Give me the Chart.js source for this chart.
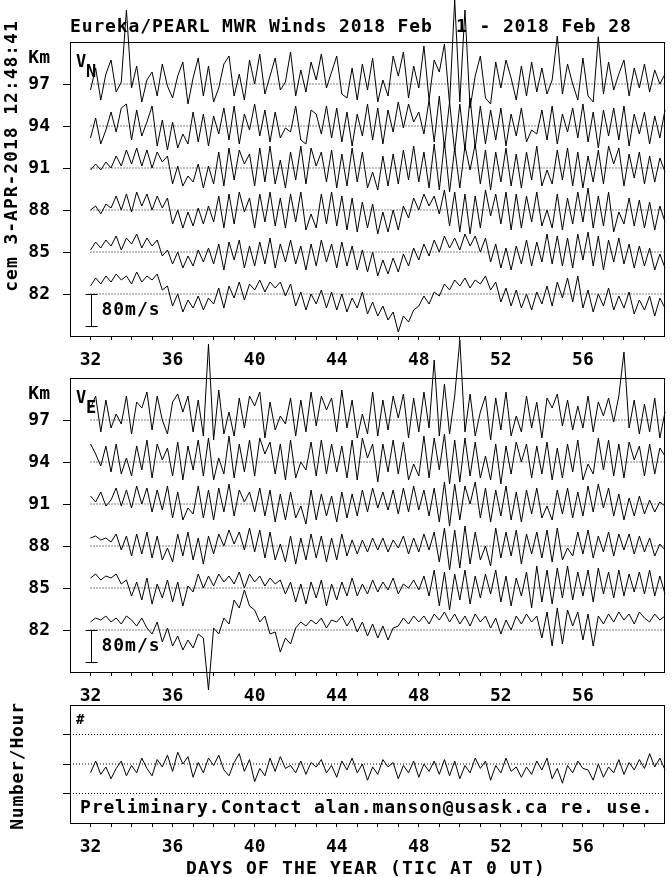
<!DOCTYPE html>
<html>
<head>
<meta charset="utf-8">
<script src="https://cdn.jsdelivr.net/npm/chart.js@4.4.1/dist/chart.umd.min.js"></script>
<style>
  body { margin: 0; background: #fff; }
  #wrap { position: relative; width: 672px; height: 877px; }
  #wrap canvas { position: absolute; left: 0; top: 0; }
</style>
</head>
<body>
<div id="wrap">
  <canvas id="panelN" width="672" height="877"></canvas>
  <canvas id="panelE" width="672" height="877"></canvas>
  <canvas id="panelM" width="672" height="877"></canvas>
</div>
<script>
// heights (km) of the stacked wind traces, top to bottom
const levels = [97, 94, 91, 88, 85, 82];
// day-of-year ticks and which of them carry a label
const dayTicks = [32,33,34,35,36,37,38,39,40,41,42,43,44,45,46,47,48,49,50,51,52,53,54,55,56,57,58,59];
const dayLabels = [32, 36, 40, 44, 48, 52, 56];
const mpsPerKm = 35; // 80 m/s bar = 2.29 km of the height axis

// sample times: every 6 h from day 32.0 to day 60.0
const days = [];
for (let d = 32; d <= 60; d += 0.25) days.push(d);

// meridional wind V_N (m/s), one row per height
const vn97 = [-15,40,-40,25, 60,-20,5,185, -10,45,-45,10, 30,-30,50,-5, -35,20,55,-50, 15,65,-30,45, -45,-10,50,70, -30,25,-40,60, 0,75,-25,20, 65,-15,5,80, -30,35,-20,55, 10,75,-10,30, 70,-25,-35,40, -40,50,-15,65, -45,10,-30,70, 20,80,-35,45, -10,95,-40,60, 30,100,-50,210, -45,185,-60,20, 70,-35,-50,55, -10,60,15,-40, 45,-30,55,-20, 40,-25,10,120, -25,50,0,-40, 65,-30,-45,118, -25,55,-15,25, 60,-30,40,-10, 50,-20,35,0, 25];
const vn94 = [-30,20,-45,-10, 35,-15,45,55, -35,40,-25,10, 50,-50,15,-60, 10,-55,-20,-45, 35,-40,30,-50, 25,-20,45,-35, 50,-45,30,-10, 55,-25,40,-40, 35,-30,-5,-15, 50,-35,-45,40, 30,-20,50,-30, 45,-40,35,-50, 30,-25,55,-35, 45,-45,40,-15, 60,-5,55,10, 35,-20,65,-40, 75,-55,60,-65, 55,-60,70,-55, 50,-45,40,-35, 45,-50,30,-25, 45,-40,-10,-20, 40,-35,50,-45, 30,-15,45,-30, 55,-40,35,-55, 40,-25,45,-35, 50,-50,30,-20, 35,-45,25,-30, 40];
const vn91 = [-5,10,-5,15, 0,30,5,45, 10,50,5,45, 0,40,15,30, -40,5,-45,-20, -35,10,-50,5, -40,40,-45,50, -30,45,10,35, -45,50,-35,55, -40,20,-50,40, -30,55,-40,50, 5,40,-35,45, -50,35,-45,50, -35,40,-50,-10, -55,30,-45,35, -40,45,-30,55, -35,40,-50,60, -55,65,-60,50, -50,55,-5,60, -40,45,-55,40, -35,50,-45,35, -50,40,-30,55, -45,-5,-40,45, -30,50,-45,40, -50,30,-35,45, -40,55,10,50, -45,35,-25,40, -40,30,-35,25, -10];
const vn88 = [0,10,-10,15, 5,35,0,40, -5,45,10,40, 0,35,5,30, -35,0,-45,-5, -40,5,-35,10, -30,35,-45,40, -35,45,-5,30, -45,40,-30,45, -40,30,-45,40, -30,45,-50,-10, -45,40,-35,45, -40,35,-50,30, -55,20,-45,15, -60,-5,-55,0, -50,10,-20,30, 0,40,10,35, -10,50,-40,45, -55,40,-60,35, -45,50,-15,40, -35,45,-50,40, -45,35,-30,45, -40,0,-45,40, -50,30,-35,45, -30,55,-45,35, -40,45,-55,-5, -35,30,-40,25, -45,20,-50,10, -30];
const vn85 = [5,25,10,30, 15,40,5,35, 20,45,10,35, 15,30,-10,5, -30,0,-40,-10, -35,5,-25,10, -30,20,-45,25, -20,30,-40,15, -35,25,-30,35, -40,20,-25,30, -30,15,-45,20, -35,30,-25,20, -40,25,-35,15, -45,5,-50,0, -60,-20,-55,-15, -50,-5,-35,10, -20,20,-10,30, 0,40,10,35, 5,45,15,40, 0,35,-25,20, -40,10,-45,15, -30,30,-35,25, -25,45,-30,40, -35,35,-40,45, -20,50,-35,40, -45,30,-25,35, -30,20,-40,15, -35,10,-45,-5, -40];
const vn82 = [20,40,25,45, 30,50,35,45, 25,55,30,45, 35,50,10,20, -30,0,-45,-15, -35,-5,-40,-10, -25,15,-35,20, -10,30,-15,25, 10,35,5,30, 15,30,-5,25, -30,5,-40,0, -25,10,-35,5, -40,0,-45,-10, -35,5,-50,-20, -55,-30,-65,-45, -95,-55,-70,-40, -30,-5,-25,5, -5,25,10,35, 20,40,15,35, 25,45,10,30, -20,15,-30,10, -35,0,-40,5, -25,20,-30,30, -10,40,-20,45, -35,10,-45,0, -30,15,-40,-5, -35,5,-50,-15, -40,-5,-55,-10, -35];

// zonal wind V_E (m/s)
const ve97 = [30,60,-30,50, -20,15,-10,60, -35,45,30,70, -25,60,0,-35, 45,65,20,60, -30,50,-40,190, -50,75,-35,20, -40,55,-20,60, 35,70,-45,45, -25,10,-10,55, -40,50,-30,70, -15,60,25,55, -30,75,-20,50, -45,15,-35,70, -40,50,-25,60, 5,65,-45,55, -30,70,-20,150, -40,90,-35,60, 200,-30,65,-40, 20,60,-50,55, -25,70,-40,10, -30,60,-20,45, -45,55,30,65, -15,50,-25,35, -20,60,-30,45, 10,55,-5,60, 170,-20,50,-35, 40,-30,55,-45, 20];
const ve94 = [45,20,-10,40, -25,45,-30,10, -35,40,-20,55, -40,45,5,35, -35,50,-45,40, -20,55,-35,60, -45,10,-30,65, -40,45,-25,55, -35,60,20,50, -30,45,-45,55, -40,0,-20,50, -35,55,-30,45, -25,40,-40,55, -45,60,10,45, -50,45,-25,55, -30,50,-45,-5, -35,65,-40,60, -20,70,-55,55, -50,60,-35,50, -40,15,-45,45, -55,40,-30,50, 0,45,-40,40, -30,50,-45,35, -40,45,-25,55, -45,-5,-30,60, -20,55,-35,45, -40,50,5,40, -35,45,-30,35, 15];
const ve91 = [20,5,30,-5, 10,40,-5,35, -10,45,0,40, -20,35,-15,45, -35,30,-40,-10, -25,45,-35,35, -40,40,-20,50, -30,35,5,30, -20,40,-30,35, -45,25,-40,30, -35,-5,-50,35, -40,25,-30,20, -45,30,-35,25, -30,35,-20,40, -10,30,-15,35, -25,40,-20,45, -15,35,-30,40, -45,55,-55,50, -40,45,0,55, -35,40,-45,35, -30,45,-40,30, -45,35,-25,40, -35,-5,-40,35, -25,40,-35,30, -30,45,-20,50, -10,40,-30,25, -40,15,-30,20, -25,10,-20,5, -5];
const ve88 = [20,25,15,20, 10,30,-10,25, -25,30,-20,35, -30,25,-35,-5, -40,30,-25,35, -35,20,-45,25, -20,30,0,40, 5,35,-10,45, -15,40,-30,35, -35,5,-40,25, -45,20,-35,30, -30,25,-40,20, -35,30,-25,15, -20,15,-15,20, -10,20,-15,15, -5,25,-20,20, -15,30,-10,35, -40,45,-60,40, -55,50,-45,35, -35,0,-50,45, -30,35,-25,40, -45,30,-20,35, -30,40,-40,45, -35,-5,-25,35, -20,40,-30,25, -15,35,-25,30, -10,30,-20,25, -15,20,-25,5, -10];
const ve85 = [25,35,20,30, 25,35,10,20, -20,15,-30,25, -40,10,-25,20, -35,15,-45,5, -10,35,0,30, 5,35,15,30, 10,40,0,35, 15,30,5,25, 10,20,-15,15, -35,10,-40,15, -25,20,-45,10, -30,15,-20,25, -20,10,-15,20, -10,15,-5,25, -15,10,0,20, -5,30,-20,45, -45,40,-55,35, -30,45,-40,30, -25,35,-15,45, -35,30,-45,25, -20,40,-50,55, -35,45,-40,50, -25,55,-30,40, -20,45,-35,50, -15,40,-25,45, -20,35,-10,40, -15,45,-20,30, -15];
const ve82 = [20,30,25,35, 20,30,15,35, 25,10,30,5, -10,20,-30,5, -40,-15,-50,-25, -45,-10,-20,-150, 5,-10,30,15, 75,55,100,60, 50,20,35,-10, -5,-55,-20,-35, 5,20,10,25, 15,30,5,25, 20,35,10,30, -5,20,-15,15, -20,10,-25,5, 10,30,15,35, 20,35,15,40, 25,45,20,40, 15,35,10,40, 20,35,5,30, -10,25,0,35, 15,40,20,35, -20,45,-40,55, -35,50,10,45, -25,40,-40,35, 15,40,20,45, 25,40,15,45, 30,20,40,25, 35];

// meteor echo rate, in units of the lower panel's grid
const meteorRate = [1.7,2.1,1.65,1.9, 1.5,1.85,2.1,1.6, 1.95,1.7,2.2,1.85, 1.6,2.15,1.9,2.3, 1.75,2.4,2.0,2.25, 1.55,2.05,1.7,2.2, 1.95,2.3,1.8,1.6, 2.05,2.35,1.75,2.15, 1.4,1.85,1.6,2.2, 1.75,2.25,1.85,1.95, 1.7,2.1,1.65,2.05, 1.9,2.15,1.7,1.95, 1.55,2.1,1.8,2.2, 1.7,2.0,1.45,1.9, 1.65,2.15,1.9,2.05, 1.5,1.95,1.7,2.1, 1.55,2.0,1.75,2.1, 1.65,2.15,1.6,2.1, 1.5,1.95,1.7,2.2, 1.85,2.1,1.45,1.95, 1.7,2.2,1.75,1.9, 1.55,1.9,1.65,2.1, 1.8,2.2,1.5,1.85, 1.35,1.95,1.7,2.1, 1.85,1.8,1.45,2.0, 1.55,1.9,1.7,2.15, 1.65,2.05,1.8,2.15, 1.85,2.35,1.9,2.2, 1.8];
const meteorGrid = [1, 2, 3];

const FAM = "'DejaVu Sans Mono', monospace";
Chart.defaults.font.family = FAM;
Chart.defaults.font.weight = 'bold';
Chart.defaults.color = '#000';

function dotted(y, x0) {
  return { data: [{x: x0, y: y}, {x: 60, y: y}], borderColor: '#000', borderWidth: 1,
           borderDash: [1, 2], pointRadius: 0 };
}
function trace(vals, base, scale) {
  return { data: vals.map((v, i) => ({x: days[i], y: base + v * scale})), borderColor: '#000',
           borderWidth: 1, pointRadius: 0, tension: 0, clip: false };
}

function xAxis() {
  return {
    type: 'linear', min: 31, max: 60,
    afterFit: s => { s.height = 30; },
    afterBuildTicks: s => { s.ticks = dayTicks.map(v => ({value: v})); },
    ticks: { autoSkip: false, maxRotation: 0, padding: 10, font: {size: 18, weight: 'bold'},
             callback: v => dayLabels.includes(v) ? String(v) : '' },
    grid: { drawOnChartArea: false, tickLength: 4, color: '#000' },
    border: { display: false }
  };
}

// text on a fixed character pitch, like the plotter font of the original
function txt(ctx, s, x, y, size, align, pitch) {
  ctx.font = 'bold ' + size + 'px ' + FAM;
  ctx.textAlign = 'left';
  ctx.textBaseline = 'middle';
  ctx.fillStyle = '#000';
  const w = pitch ? s.length * pitch : ctx.measureText(s).width;
  const x0 = align === 'center' ? x - w / 2 : align === 'right' ? x - w : x;
  if (!pitch) { ctx.fillText(s, x0, y); return; }
  for (let i = 0; i < s.length; i++) ctx.fillText(s[i], x0 + i * pitch, y);
}

const frame = {
  id: 'frame',
  afterDraw(chart) {
    const a = chart.chartArea, ctx = chart.ctx;
    ctx.save();
    ctx.strokeStyle = '#000';
    ctx.lineWidth = 1;
    ctx.strokeRect(Math.round(a.left) + 0.5, Math.round(a.top) + 0.5,
                   Math.round(a.right - a.left) - 1, Math.round(a.bottom - a.top));
    ctx.restore();
  }
};

function windPanel(id, top, series, sub, extra) {
  const bottom = top + 294;
  const sets = levels.map(lv => dotted(lv, 32));
  series.forEach((vals, k) => sets.push(trace(vals, levels[k], 1 / mpsPerKm)));
  const labels = {
    id: 'labels' + id,
    afterDraw(chart) {
      const ctx = chart.ctx, xs = chart.scales.x, ys = chart.scales.y;
      ctx.save();
      txt(ctx, 'Km', 50, top + 16, 18, 'right');
      txt(ctx, 'V', 76, top + 21, 17);
      txt(ctx, sub, 86, top + 31, 17);
      // 80 m/s scale bar hanging from the lowest trace level
      const bx = Math.round(xs.getPixelForValue(32)) + 0.5;
      const y0 = Math.round(ys.getPixelForValue(82)) + 0.5;
      const y1 = Math.round(ys.getPixelForValue(82 - 80 / mpsPerKm)) + 0.5;
      ctx.strokeStyle = '#000';
      ctx.lineWidth = 1;
      ctx.beginPath();
      ctx.moveTo(bx, y0); ctx.lineTo(bx, y1);
      ctx.moveTo(bx - 6, y0); ctx.lineTo(bx + 6, y0);
      ctx.moveTo(bx - 6, y1); ctx.lineTo(bx + 6, y1);
      ctx.stroke();
      txt(ctx, '80m/s', bx + 10, (y0 + y1) / 2, 18, 'left', 11.8);
      if (extra) extra(ctx);
      ctx.restore();
    }
  };
  new Chart(document.getElementById(id), {
    type: 'line',
    data: { datasets: sets },
    options: {
      responsive: false, animation: false, devicePixelRatio: 1,
      layout: { padding: { top: top, right: 7, bottom: 877 - bottom - 30, left: 0 } },
      plugins: { legend: { display: false }, tooltip: { enabled: false } },
      scales: {
        x: xAxis(),
        y: {
          type: 'linear', min: 79, max: 100,
          afterFit: s => { s.width = 70; },
          afterBuildTicks: s => { s.ticks = levels.map(v => ({value: v})); },
          ticks: { padding: 13, font: {size: 18, weight: 'bold'} },
          grid: { drawOnChartArea: false, tickLength: 7, color: '#000' },
          border: { display: false }
        }
      }
    },
    plugins: [frame, labels]
  });
}

windPanel('panelN', 42, [vn97, vn94, vn91, vn88, vn85, vn82], 'N', ctx => {
  txt(ctx, 'Eureka/PEARL MWR Winds 2018 Feb  1 - 2018 Feb 28', 70, 27, 18, 'left', 11.7);
  ctx.save();
  ctx.translate(12, 156);
  ctx.rotate(-Math.PI / 2);
  txt(ctx, 'cem 3-APR-2018 12:48:41', 0, 0, 18, 'center', 11.8);
  ctx.restore();
});
windPanel('panelE', 378, [ve97, ve94, ve91, ve88, ve85, ve82], 'E');

// lower panel: meteor echo rate
const meteorLabels = {
  id: 'meteorLabels',
  afterDraw(chart) {
    const ctx = chart.ctx;
    ctx.save();
    txt(ctx, '#', 76, 720, 14);
    txt(ctx, 'Preliminary.Contact alan.manson@usask.ca re. use.', 80, 808, 18, 'left', 11.7);
    txt(ctx, 'DAYS OF THE YEAR (TIC AT 0 UT)', 366, 869, 18, 'center', 12);
    ctx.translate(18, 766);
    ctx.rotate(-Math.PI / 2);
    txt(ctx, 'Number/Hour', 0, 0, 18, 'center', 11.6);
    ctx.restore();
  }
};
new Chart(document.getElementById('panelM'), {
  type: 'line',
  data: { datasets: meteorGrid.map(g => dotted(g, 31)).concat([trace(meteorRate, 0, 1)]) },
  options: {
    responsive: false, animation: false, devicePixelRatio: 1,
    layout: { padding: { top: 705, right: 7, bottom: 877 - 823 - 30, left: 0 } },
    plugins: { legend: { display: false }, tooltip: { enabled: false } },
    scales: {
      x: xAxis(),
      y: {
        type: 'linear', min: 0, max: 4,
        afterFit: s => { s.width = 70; },
        afterBuildTicks: s => { s.ticks = meteorGrid.map(v => ({value: v})); },
        ticks: { callback: () => '' },
        grid: { drawOnChartArea: false, tickLength: 7, color: '#000' },
        border: { display: false }
      }
    }
  },
  plugins: [frame, meteorLabels]
});
</script>
</body>
</html>
